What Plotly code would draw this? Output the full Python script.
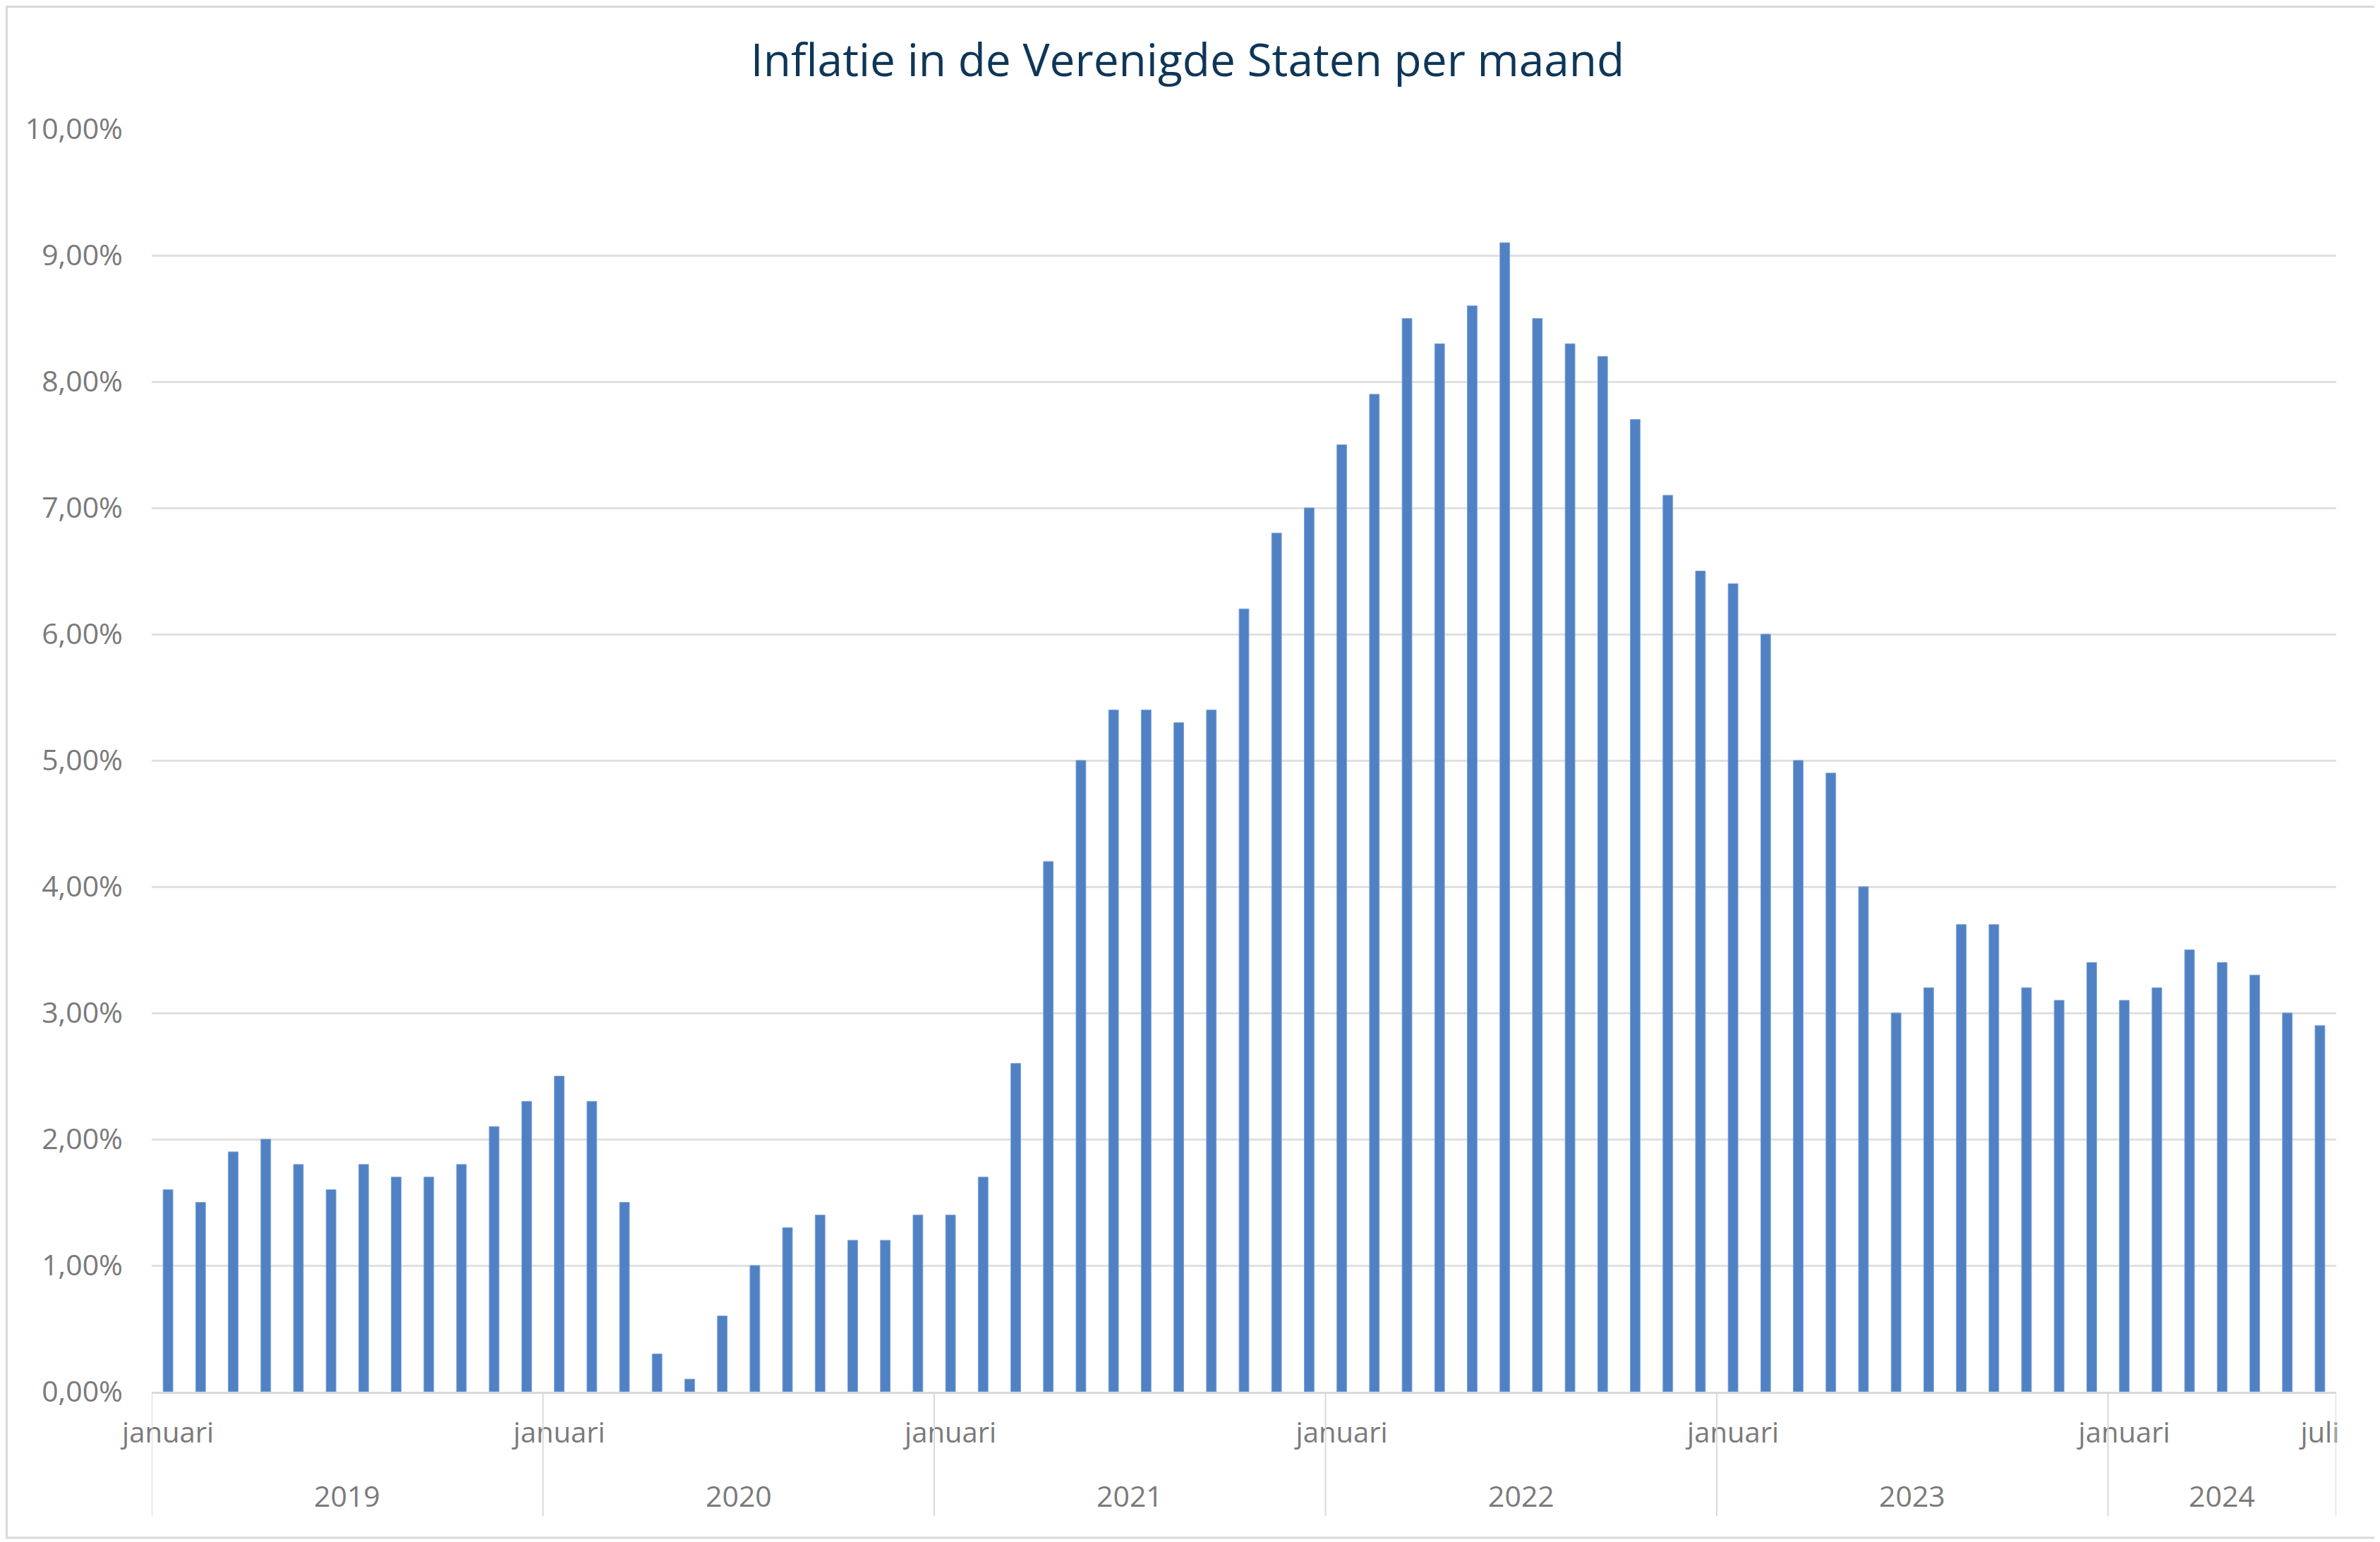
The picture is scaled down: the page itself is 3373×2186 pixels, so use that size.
"""
Inflatie in de Verenigde Staten per maand - staafdiagram met Plotly.
"""

import plotly.graph_objects as go

# Maandnamen (NL)
months = ["januari", "februari", "maart", "april", "mei", "juni",
          "juli", "augustus", "september", "oktober", "november", "december"]

years = [2019, 2020, 2021, 2022, 2023, 2024]

# Inflatie per maand (%)
infl_2019 = [1.6, 1.5, 1.9, 2.0, 1.8, 1.6, 1.8, 1.7, 1.7, 1.8, 2.1, 2.3]
infl_2020 = [2.5, 2.3, 1.5, 0.3, 0.1, 0.6, 1.0, 1.3, 1.4, 1.2, 1.2, 1.4]
infl_2021 = [1.4, 1.7, 2.6, 4.2, 5.0, 5.4, 5.4, 5.3, 5.4, 6.2, 6.8, 7.0]
infl_2022 = [7.5, 7.9, 8.5, 8.3, 8.6, 9.1, 8.5, 8.3, 8.2, 7.7, 7.1, 6.5]
infl_2023 = [6.4, 6.0, 5.0, 4.9, 4.0, 3.0, 3.2, 3.7, 3.7, 3.2, 3.1, 3.4]
infl_2024 = [3.1, 3.2, 3.5, 3.4, 3.3, 3.0, 2.9]

per_year = [infl_2019, infl_2020, infl_2021, infl_2022, infl_2023, infl_2024]

W, H = 3373, 2186
OFF = 8  # standaard body-marge van de browser
FONT = "Open Sans"
GREY = "#7a7a7a"
LINE = "#d9d9d9"
BAR = "#4f81c4"

# Eén categorie per maand; alleen januari en de laatste maand krijgen een label
x_cat, y_vals, tickvals, ticktext = [], [], [], []
year_spans = []  # (jaar, eerste index, laatste index)
n_total = sum(len(v) for v in per_year)
for year, vals in zip(years, per_year):
    start = len(x_cat)
    for m, v in enumerate(vals):
        cat = f"{months[m]} {year}"
        x_cat.append(cat)
        y_vals.append(v)
        if m == 0 or len(x_cat) == n_total:
            tickvals.append(cat)
            ticktext.append(months[m])
    year_spans.append((year, start, len(x_cat) - 1))

fig = go.Figure(
    go.Bar(
        x=x_cat,
        y=y_vals,
        marker=dict(color=BAR, line=dict(color="#7ea3d6", width=1)),
        hovertemplate="%{x}: %{y:.1f}%<extra></extra>",
    )
)

# marges in figuur-pixels (pagina-coördinaten min de body-marge)
ml = 215 - OFF
mt = 183 - OFF
mr = W - (3311 - OFF)
mb = H - (1973 - OFF)
pw = W - ml - mr
ph = H - mt - mb

fig.update_layout(
    width=W,
    height=H,
    margin=dict(l=ml, r=mr, t=mt, b=mb),
    paper_bgcolor="white",
    plot_bgcolor="white",
    bargap=0.7,
    showlegend=False,
    separators=",.",
    font=dict(family=FONT, size=40, color=GREY),
    title=dict(
        text="Inflatie in de Verenigde Staten per maand",
        x=(1683 - OFF) / W,
        xanchor="center",
        y=1 - (86 - OFF) / H,
        yanchor="middle",
        yref="container",
        font=dict(family=FONT, size=64, color="#0e3658"),
    ),
    xaxis=dict(
        type="category",
        automargin=False,
        range=[-0.5, n_total - 0.5],
        tickmode="array",
        tickvals=tickvals,
        ticktext=ticktext,
        tickangle=0,
        showgrid=False,
        showline=True,
        linecolor=LINE,
        linewidth=3,
        ticks="",
        ticklabelstandoff=21,
        tickfont=dict(family=FONT, size=40, color=GREY),
    ),
    yaxis=dict(
        automargin=False,
        range=[0, 10],
        dtick=1,
        tickformat=".2f",
        ticksuffix="%",
        showgrid=True,
        gridcolor="#e0e0e0",
        gridwidth=3,
        zeroline=False,
        showline=False,
        ticks="",
        ticklabelstandoff=40,
        tickfont=dict(family=FONT, size=41, color=GREY),
    ),
)

# Jaartallen onder de maandlabels en scheidingslijnen tussen de jaren
div_depth = 176 / ph
for year, i0, i1 in year_spans:
    fig.add_annotation(
        x=(i0 + i1) / 2,
        xref="x",
        y=0,
        yref="paper",
        yshift=-147,
        yanchor="middle",
        text=str(year),
        showarrow=False,
        font=dict(family=FONT, size=41, color=GREY),
    )
    fig.add_shape(
        type="line", xref="x", yref="paper",
        x0=i0 - 0.5, x1=i0 - 0.5, y0=0, y1=-div_depth,
        line=dict(color=LINE, width=2),
    )
fig.add_shape(
    type="line", xref="x", yref="paper",
    x0=n_total - 0.5, x1=n_total - 0.5, y0=0, y1=-div_depth,
    line=dict(color=LINE, width=2),
)

# Lichtgrijze rand rond de hele grafiek
fig.add_shape(
    type="rect",
    xref="paper",
    yref="paper",
    x0=(1.5 - ml) / pw,
    x1=(W - 4 - OFF - ml) / pw,
    y0=-(mb - OFF - 6) / ph,
    y1=1 + (mt - 1.5) / ph,
    line=dict(color=LINE, width=3),
    fillcolor="rgba(0,0,0,0)",
    layer="below",
)

fig.write_html("out.html")
